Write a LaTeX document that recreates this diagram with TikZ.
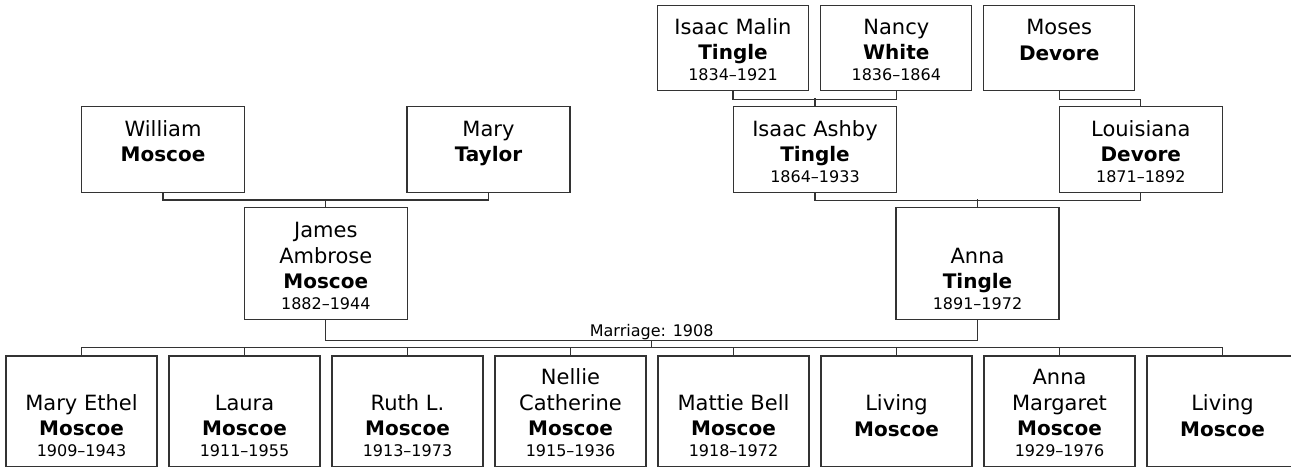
\documentclass[tikz,border=0pt]{standalone}
\usepackage{fontspec}
\setmainfont{DejaVu Sans}
\usetikzlibrary{positioning}

\newcommand{\who}[3]{\parbox[c][\boxh][b]{150pt}{\centering
  {\fontsize{21}{25.5}\selectfont #1\\{\fontsize{20}{25.5}\selectfont\bfseries #2}\par}
  {\fontsize{16}{20.5}\selectfont\mbox{}#3\par}\vspace{10pt}}}

\tikzset{
  box/.style={rectangle, draw=black!80, line width=1.2pt, fill=white, inner sep=0pt},
  elder/.style={box, minimum width=151pt, minimum height=85.4pt, execute at begin node={\def\boxh{85.4pt}}},
  grand/.style={box, minimum width=163pt, minimum height=85.6pt, execute at begin node={\def\boxh{85.6pt}}},
  parent/.style={box, minimum width=163pt, minimum height=111.8pt, execute at begin node={\def\boxh{111.8pt}}},
  kid/.style={box, minimum width=151pt, minimum height=110.7pt, execute at begin node={\def\boxh{110.7pt}}},
  link/.style={draw=black!80, line width=1.2pt},
  wedtext/.style={inner sep=0pt, font=\fontsize{16}{19}\selectfont}
}

\begin{document}
\begin{tikzpicture}[x=1pt, y=-1pt]
\useasboundingbox (0,0) rectangle (1291,468);
% Great-grandparents
\node[elder] (malin) at (733,48) {\who{Isaac Malin}{Tingle}{1834–1921}};
\node[elder] (nancy) at (896.3,48) {\who{Nancy}{White}{1836–1864}};
\node[elder] (moses) at (1059.2,48) {\who{Moses}{Devore}{}};
% Grandparents
\node[grand] (william) at (163,149.5) {\who{William}{Moscoe}{}};
\node[grand] (mary) at (488.5,149.5) {\who{Mary}{Taylor}{}};
\node[grand] (ashby) at (815,149.5) {\who{Isaac Ashby}{Tingle}{1864–1933}};
\node[grand] (louisiana) at (1140.8,149.5) {\who{Louisiana}{Devore}{1871–1892}};
% Parents
\node[parent] (james) at (325.8,263.6) {\who{James\\Ambrose}{Moscoe}{1882–1944}};
\node[parent] (anna) at (977.5,263.6) {\who{Anna}{Tingle}{1891–1972}};
% Children
\node[kid] (c1) at (81.5,411.35) {\who{Mary Ethel}{Moscoe}{1909–1943}};
\node[kid] (c2) at (244.5,411.35) {\who{Laura}{Moscoe}{1911–1955}};
\node[kid] (c3) at (407.5,411.35) {\who{Ruth L.}{Moscoe}{1913–1973}};
\node[kid] (c4) at (570.5,411.35) {\who{Nellie\\Catherine}{Moscoe}{1915–1936}};
\node[kid] (c5) at (733.5,411.35) {\who{Mattie Bell}{Moscoe}{1918–1972}};
\node[kid] (c6) at (896.5,411.35) {\who{Living}{Moscoe}{}};
\node[kid] (c7) at (1059.5,411.35) {\who{Anna\\Margaret}{Moscoe}{1929–1976}};
\node[kid] (c8) at (1222.5,411.35) {\who{Living}{Moscoe}{}};
% Parent lines
\draw[link] (malin.south) -- ++(0,8) -| (nancy.south);
\draw[link] (ashby.north) -- ++(0,-8);
\draw[link] (moses.south) -- ++(0,8) -| (louisiana.north);
\draw[link] (william.south) -- ++(0,7) -| (mary.south);
\draw[link] (james.north) -- ++(0,-8.4);
\draw[link] (ashby.south) -- ++(0,7.7) -| (louisiana.south);
\draw[link] (anna.north) -- ++(0,-7.7);
% Marriage
\draw[link] (james.south) -- ++(0,20.5) coordinate (jm) -| (anna.south);
\path (james.south) -- (anna.south) coordinate[midway] (mid);
\coordinate (wed) at (mid |- jm);
\node[wedtext, above=1pt of wed] (wedlabel) {Marriage: 1908};
% Children lines
\draw[link] (c1.north) -- ++(0,-8) coordinate (bar) -| (c8.north);
\draw[link] (wed) -- (wed |- bar);
\draw[link] (c2.north) -- ++(0,-8);
\draw[link] (c3.north) -- ++(0,-8);
\draw[link] (c4.north) -- ++(0,-8);
\draw[link] (c5.north) -- ++(0,-8);
\draw[link] (c6.north) -- ++(0,-8);
\draw[link] (c7.north) -- ++(0,-8);
\end{tikzpicture}
\end{document}
